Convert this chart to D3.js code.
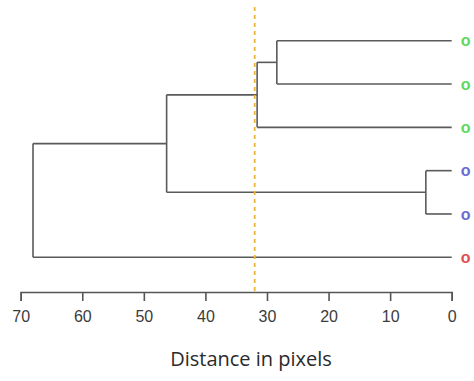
<!DOCTYPE html>
<html><head><meta charset="utf-8">
<script src="https://cdn.jsdelivr.net/npm/d3@7"></script>
<style>body{margin:0;background:#fff}</style>
</head><body>
<svg id="c" width="474" height="381"></svg>
<script>
// Leaves (top to bottom) with their group colour
const leafLabels = ["o","o","o","o","o","o"];
const leafColors = ["#5fd85f","#5fd85f","#5fd85f","#6b6bd6","#6b6bd6","#e05050"];
// Merge heights (distance in pixels)
const mergeHeights = {A: 28.4, B: 31.6, C: 4.2, D: 46.3, R: 68.0};
const cutHeight = 32.0;
const tickValues = [70,60,50,40,30,20,10,0];
const axisTitle = "Distance in pixels";

const tree = {name:"R", children:[
  {name:"D", children:[
    {name:"B", children:[
      {name:"A", children:[{leaf:0},{leaf:1}]},
      {leaf:2}
    ]},
    {name:"C", children:[{leaf:3},{leaf:4}]}
  ]},
  {leaf:5}
]};

const svg = d3.select("#c");
const x = d3.scaleLinear().domain([70,0]).range([20.7,451.7]);
const y = d3.scaleLinear().domain([0,5]).range([40.7,257.3]);

const root = d3.hierarchy(tree);
root.eachAfter(n=>{
  if (n.data.leaf!==undefined){ n.py = y(n.data.leaf); n.px = x(0); }
  else { n.py = d3.mean(n.children, c=>c.py); n.px = x(mergeHeights[n.data.name]); }
});

const g = svg.append("g").attr("fill","none").attr("stroke","#5a5a5a").attr("stroke-width",1.6);
root.each(n=>{
  if (!n.children) return;
  const ys = n.children.map(c=>c.py);
  g.append("line").attr("x1",n.px).attr("x2",n.px).attr("y1",d3.min(ys)).attr("y2",d3.max(ys));
  n.children.forEach(c=>{
    g.append("line").attr("x1",n.px).attr("x2",c.px).attr("y1",c.py).attr("y2",c.py);
  });
});

// leaf labels
root.leaves().forEach(l=>{
  svg.append("text").attr("x",x(0)+14).attr("y",l.py).attr("dy","0.35em")
    .attr("text-anchor","middle").attr("font-family","Liberation Sans, Arial, sans-serif")
    .attr("font-size",16).attr("font-weight","bold").attr("fill",leafColors[l.data.leaf])
    .text(leafLabels[l.data.leaf]);
});

// axis
const ax = svg.append("g").attr("transform","translate(0,292)")
  .call(d3.axisBottom(x).tickValues(tickValues).tickSize(9).tickSizeOuter(9).tickPadding(10).tickFormat(d3.format("d")));
ax.select(".domain").attr("stroke","#555").attr("stroke-width",1.6);
ax.selectAll(".tick line").attr("stroke","#555").attr("stroke-width",1.6);
ax.selectAll(".tick text").attr("font-family","Liberation Sans, Arial, sans-serif").attr("font-size",16).attr("fill","#3c3c3c");

// cut line
svg.append("line").attr("x1",x(cutHeight)).attr("x2",x(cutHeight)).attr("y1",7).attr("y2",292)
  .attr("stroke","#f2b533").attr("stroke-width",1.8).attr("stroke-dasharray","4,4");

svg.append("text").attr("x",251).attr("y",359).attr("dy","0.35em").attr("text-anchor","middle")
  .attr("font-family","Open Sans, sans-serif").attr("font-size",20).attr("fill","#2a2a2a").text(axisTitle);
</script>
</body></html>
